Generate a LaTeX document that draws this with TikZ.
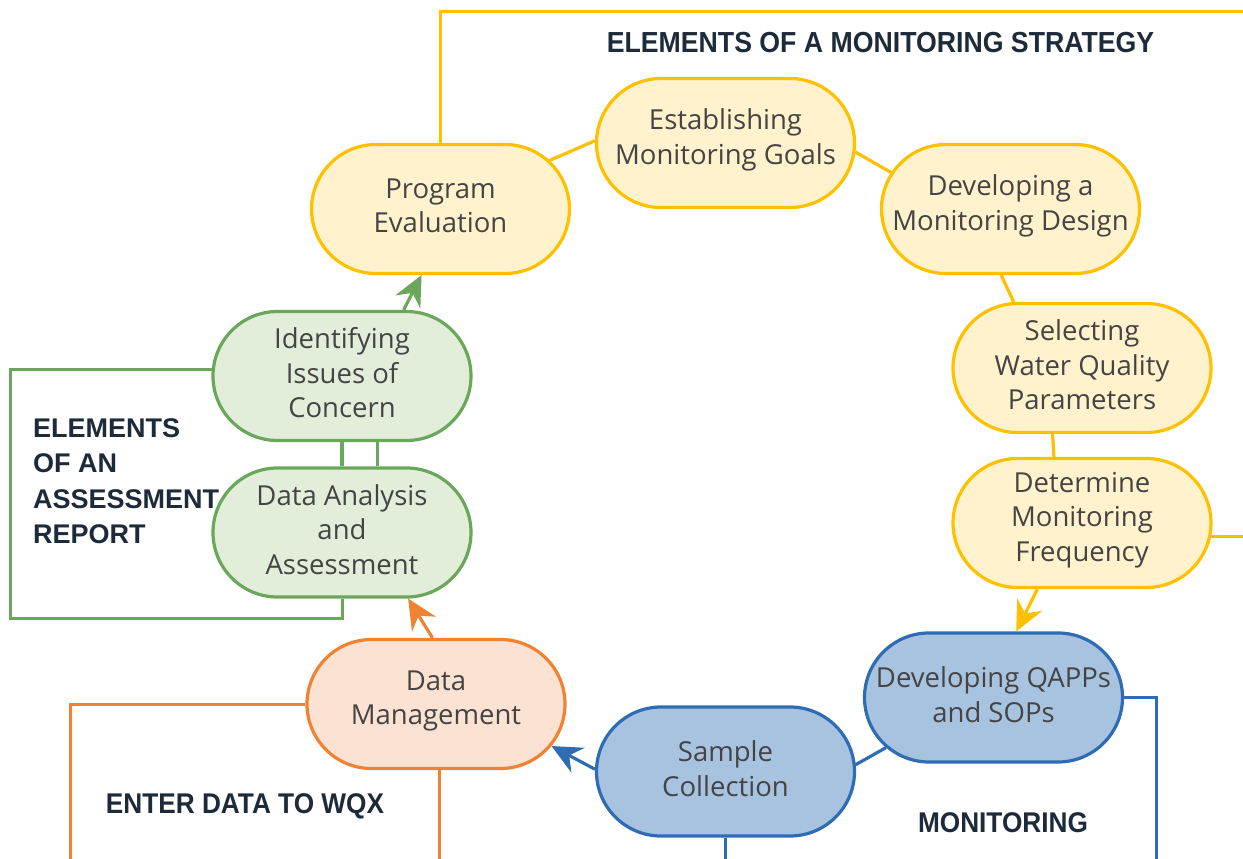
\documentclass[tikz,border=0pt]{standalone}
\usepackage{fontspec}
\setmainfont{Open Sans}
\newfontfamily\headfont[FakeStretch=0.92]{Liberation Sans}
\newfontfamily\blockfont{Liberation Sans}
\usepackage{tikz}
\usetikzlibrary{arrows.meta,positioning,shapes.misc}
\definecolor{strategyline}{HTML}{FFC000}
\definecolor{strategyfill}{HTML}{FFF2CC}
\definecolor{reportline}{HTML}{6AA75A}
\definecolor{reportfill}{HTML}{E2EDDA}
\definecolor{wqxline}{HTML}{F08233}
\definecolor{wqxfill}{HTML}{FBE2D3}
\definecolor{monitorline}{HTML}{2E6DB4}
\definecolor{monitorfill}{HTML}{A8C3E0}
\definecolor{labeltext}{HTML}{444444}
\definecolor{headtext}{HTML}{1C2A3A}
\tikzset{
	steptext/.style={
		align=center,
		text=labeltext,
		yshift=3pt,
		font=\fontsize{27.5}{34.5}\selectfont
	},
	link/.style={
		line width=3.2pt
	},
	flow/.style={
		-{Stealth[length=30pt,width=28pt,inset=10pt]},
		line width=3.2pt
	},
	frame/.style={
		line width=3pt
	},
	heading/.style={
		font=\headfont\bfseries\fontsize{28.5}{34}\selectfont,
		text=headtext,
		inner sep=0pt
	}
}

\begin{document}
\begin{tikzpicture}[
					x=1pt,y=-1pt,
					component/.style={
						rounded rectangle,
						minimum width=258pt,
						minimum height=129pt,
						line width=3.2pt,
						inner sep=0pt
					},
					strategy/.style={component,draw=strategyline,fill=strategyfill},
					report/.style={component,draw=reportline,fill=reportfill},
					wqx/.style={component,draw=wqxline,fill=wqxfill},
					monitor/.style={component,draw=monitorline,fill=monitorfill}]

					\useasboundingbox (0,0) rectangle (1243,859);

					%%% Nodes
					%% Monitoring strategy
					\node at (440.5,209) [strategy,label={[steptext]center:Program\\Evaluation}] (evaluation) {};
					\node at (725.5,143) [strategy,label={[steptext]center:Establishing\\Monitoring Goals}] (goals) {};
					\node at (1010.5,209) [strategy,label={[steptext]center:Developing a\\Monitoring Design}] (design) {};
					\node at (1082,368) [strategy,label={[steptext]center:Selecting\\Water Quality\\Parameters}] (parameters) {};
					\node at (1082,523) [strategy,label={[steptext]center:Determine\\Monitoring\\Frequency}] (frequency) {};

					%% Monitoring
					\node at (993.5,697.5) [monitor,label={[steptext]center:Developing QAPPs\\and SOPs}] (qapps) {};
					\node at (725.5,771.5) [monitor,label={[steptext]center:Sample\\Collection}] (sample) {};

					%% WQX
					\node at (436,704) [wqx,label={[steptext]center:Data\\Management}] (management) {};

					%% Assessment report
					\node at (342,532.5) [report,label={[steptext]center:Data Analysis\\and\\Assessment}] (analysis) {};
					\node at (342,376) [report,label={[steptext]center:Identifying\\Issues of\\Concern}] (issues) {};

					%%% Connections
					\draw[link,strategyline] (evaluation.24) -- (goals.179);
					\draw[link,strategyline] (goals.-4) -- (design.163);
					\draw[link,strategyline] (design.-98) -- (parameters.136);
					\draw[link,strategyline] (parameters.246) -- (frequency.113);
					\draw[flow,strategyline] (frequency.236) -- (qapps.71);
					\draw[link,monitorline] (qapps.205) -- (sample.3);
					\draw[flow,monitorline] (sample.179) -- (management.-20);
					\draw[flow,wqxline] (management.93.5) -- (analysis.-45);
					\draw[link,reportline] (analysis.north) -- (issues.south);
					\draw[link,reportline] (analysis.62) -- (analysis.62 |- issues.south);
					\draw[flow,reportline] (issues.47) -- (evaluation.254);

					%%% Frames
					%% Monitoring strategy
					\coordinate (strategycorner) at (1252,12);
					\draw[frame,strategyline] (evaluation.north) |- (strategycorner);
					\draw[frame,strategyline] (frequency.-6) -- (frequency.-6 -| strategycorner);
					\node[heading,anchor=base,font=\headfont\bfseries\fontsize{29}{34}\selectfont] at (880.5,53) (strategytitle) {ELEMENTS OF A MONITORING STRATEGY};

					%% Assessment report
					\coordinate (reportcorner) at (10,618);
					\draw[frame,reportline] (issues.177) -| (reportcorner) -| (analysis.south);
					\node[anchor=north west,align=left,inner sep=0pt,text=headtext,
						font=\blockfont\bfseries\fontsize{27}{35.5}\selectfont] at (33,418) (reporttitle)
						{ELEMENTS\\OF AN\\ASSESSMENT\\REPORT};

					%% WQX
					\coordinate (wqxcorner) at (70,866);
					\draw[frame,wqxline] (management.west) -| (wqxcorner);
					\draw[frame,wqxline] (management.273) -- (management.273 |- wqxcorner);
					\node[heading,anchor=base] at (245,813) (wqxtitle) {ENTER DATA TO WQX};

					%% Monitoring
					\coordinate (monitorcorner) at (1156,866);
					\draw[frame,monitorline] (qapps.east) -| (monitorcorner);
					\draw[frame,monitorline] (sample.south) -- (sample.south |- monitorcorner);
					\node[heading,anchor=base] at (1003,832) (monitortitle) {MONITORING};
				\end{tikzpicture}
\end{document}
